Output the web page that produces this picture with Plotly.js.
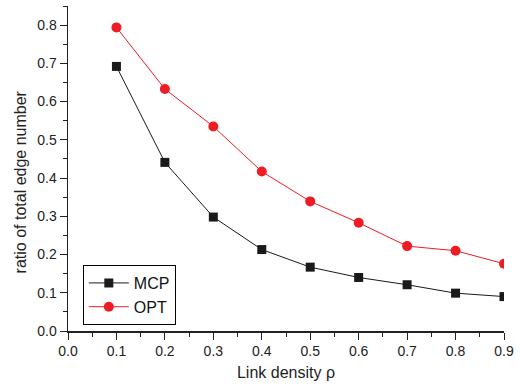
<!DOCTYPE html>
<html><head><meta charset="utf-8">
<script src="https://cdn.plot.ly/plotly-3.0.1.min.js"></script>
<style>html,body{margin:0;padding:0;background:#fff}#chart{width:520px;height:386px}</style>
</head><body><div id="chart"></div>
<script>
const density = [0.1, 0.2, 0.3, 0.4, 0.5, 0.6, 0.7, 0.8, 0.9];
const mcp = [0.692, 0.441, 0.298, 0.213, 0.167, 0.140, 0.121, 0.099, 0.090];
const opt = [0.794, 0.633, 0.535, 0.417, 0.339, 0.283, 0.222, 0.210, 0.176];
const seriesNames = ['MCP', 'OPT'];
const xTitle = 'Link density ρ';
const yTitle = 'ratio of total edge number';

const traces = [
  {x: density, y: mcp, name: seriesNames[0], mode: 'lines+markers', type: 'scatter',
   line: {color: '#1a1a1a', width: 1}, marker: {symbol: 'square', size: 9, color: '#1a1a1a'}},
  {x: density, y: opt, name: seriesNames[1], mode: 'lines+markers', type: 'scatter',
   line: {color: '#ee1c24', width: 1}, marker: {symbol: 'circle', size: 10, color: '#ee1c24'}}
];
const fam = 'Liberation Sans, Arial, sans-serif';
const layout = {
  width: 520, height: 386,
  margin: {l: 68, r: 16, t: 6, b: 55},
  paper_bgcolor: '#fff', plot_bgcolor: '#fff',
  font: {family: fam, size: 14, color: '#222'},
  showlegend: true,
  legend: {x: 0.034, y: 0.203, xanchor: 'left', yanchor: 'top', bordercolor: '#000', borderwidth: 1,
           bgcolor: '#fff', font: {family: fam, size: 16, color: '#111'}, tracegroupgap: 0, itemwidth: 40},
  xaxis: {range: [0, 0.9], dtick: 0.1, tickformat: '.1f', showgrid: false, zeroline: false,
          showline: true, linecolor: '#222', linewidth: 1.5, ticks: 'outside', ticklen: 7, tickcolor: '#222',
          tickfont: {family: fam, size: 14, color: '#222'},
          minor: {dtick: 0.05, ticks: 'outside', ticklen: 4, tickcolor: '#222', showgrid: false},
          title: {text: xTitle, font: {family: fam, size: 16, color: '#222'}, standoff: 8}},
  yaxis: {range: [0, 0.85], dtick: 0.1, tickformat: '.1f', showgrid: false, zeroline: false,
          showline: true, linecolor: '#222', linewidth: 1.5, ticks: 'outside', ticklen: 7, tickcolor: '#222',
          tickfont: {family: fam, size: 14, color: '#222'},
          minor: {dtick: 0.05, ticks: 'outside', ticklen: 4, tickcolor: '#222', showgrid: false}},
  annotations: [{text: yTitle, textangle: -90, xref: 'paper', yref: 'paper', x: -0.108, y: 0.46,
                 xanchor: 'center', yanchor: 'middle', showarrow: false,
                 font: {family: fam, size: 16, color: '#222'}}]
};
Plotly.newPlot('chart', traces, layout, {staticPlot: true});
</script></body></html>
